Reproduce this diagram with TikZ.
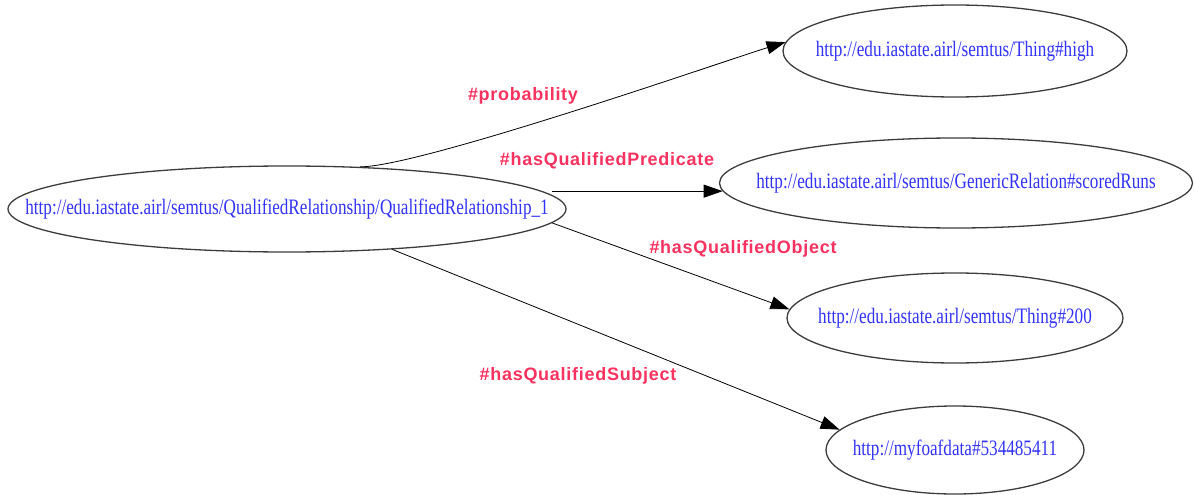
\documentclass[tikz,border=0pt]{standalone}
\usepackage{fontspec}
\usetikzlibrary{shapes.geometric,arrows.meta}
\newfontfamily\urlfont[FakeStretch=0.78]{Liberation Serif}
\newfontfamily\lblfont[LetterSpace=4]{Liberation Sans}
\definecolor{urlblue}{RGB}{50,50,250}
\definecolor{lblred}{RGB}{250,50,95}
\definecolor{rimgray}{RGB}{60,60,60}
\tikzset{
  res/.style={ellipse, draw=rimgray, line width=1.3pt, inner sep=0pt,
    text=urlblue, font=\urlfont\fontsize{22}{24}\selectfont},
  edge/.style={draw=black, line width=0.8pt, -{Triangle[length=19pt,width=13pt]}},
  lbl/.style={text=lblred, font=\lblfont\bfseries\fontsize{18}{20}\selectfont, inner sep=0pt}
}
\newcommand{\zw}[1]{\makebox[0pt]{#1}}
\begin{document}
\begin{tikzpicture}[x=1pt,y=1pt]
  \useasboundingbox (0,0) rectangle (1195,-495);
  % resources
  \node[res, minimum width=558pt, minimum height=86pt] (src) at (287,-209)
    {\zw{http://edu.iastate.airl/semtus/QualifiedRelationship/QualifiedRelationship\_1}};
  \node[res, minimum width=344pt, minimum height=92pt] (t1) at (955,-51)
    {\zw{http://edu.iastate.airl/semtus/Thing\#high}};
  \node[res, minimum width=473pt, minimum height=90pt] (t2) at (956,-183)
    {\zw{http://edu.iastate.airl/semtus/GenericRelation\#scoredRuns}};
  \node[res, minimum width=336pt, minimum height=90pt] (t3) at (955,-318)
    {\zw{http://edu.iastate.airl/semtus/Thing\#200}};
  \node[res, minimum width=258pt, minimum height=88pt] (t4) at (955,-450)
    {\zw{http://myfoafdata\#534485411}};
  % properties
  \draw[edge] (src.30) to[out=0, in=197, looseness=0.35] (t1.177);
  \draw[edge] (src.3 |- t2.182) -- (t2.182);
  \draw[edge] (src.-3.5) -- (t3.177);
  \draw[edge] (src.-21) -- (t4.170);
  % property labels
  \node[lbl] (lp) at (523,-96) {\#probability};
  \node[lbl] (lq) at (607,-161) {\#hasQualifiedPredicate};
  \node[lbl] (lo) at (743,-249) {\#hasQualifiedObject};
  \node[lbl] (ls) at (578,-376) {\#hasQualifiedSubject};
\end{tikzpicture}
\end{document}
